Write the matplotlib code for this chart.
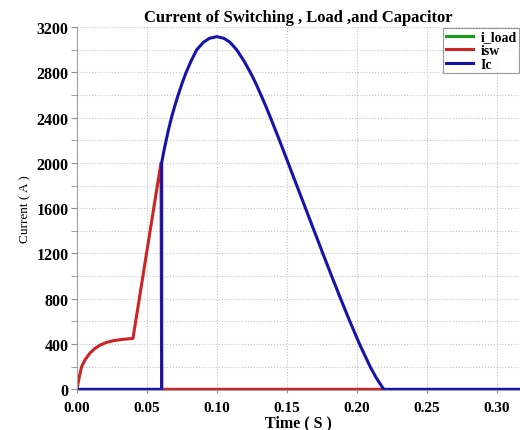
import matplotlib
matplotlib.use("Agg")
import matplotlib.pyplot as plt
from matplotlib.ticker import MultipleLocator, FormatStrFormatter

plt.rcParams["font.family"] = ["Liberation Serif", "DejaVu Serif"]

# values
t_load = [0.0, 0.317]
i_load = [0.0, 0.0]

t_sw = [0.0, 0.0008, 0.0015, 0.0033, 0.006, 0.0093, 0.0125, 0.0164, 0.021, 0.026,
        0.033, 0.040, 0.0600, 0.0605, 0.2191]
i_sw = [0, 55, 100, 200, 265, 320, 358, 390, 414, 430,
        442, 450, 2000, 0, 0]

t_c = [0.0, 0.0605, 0.0605, 0.0620, 0.0637, 0.0655, 0.0675, 0.0698, 0.0723, 0.0750,
       0.0780, 0.0815, 0.0856, 0.0903, 0.0946, 0.0998, 0.1050, 0.1093, 0.1140, 0.1193,
       0.1238, 0.1278, 0.1314, 0.1349, 0.1382, 0.1414, 0.1446, 0.1477, 0.1508, 0.1570,
       0.1632, 0.1694, 0.1756, 0.1819, 0.1883, 0.1949, 0.2018, 0.2094, 0.2138, 0.2191,
       0.317]
i_c = [0, 0, 2000, 2100, 2200, 2300, 2400, 2500, 2600, 2700,
       2800, 2900, 3000, 3065, 3100, 3115, 3100, 3065, 3000, 2900,
       2800, 2700, 2600, 2500, 2400, 2300, 2200, 2100, 2000, 1800,
       1600, 1400, 1200, 1000, 800, 600, 400, 200, 100, 0,
       0]

fig = plt.figure(figsize=(5.2, 4.31), dpi=100)
ax = fig.add_axes([0.148, 0.093, 0.852, 0.842])

ax.plot(t_load, i_load, color="#1a9a1a", lw=2.2, label="i_load")
ax.plot(t_sw, i_sw, color="#cc2424", lw=2.2, label="isw")
ax.plot(t_c, i_c, color="#1414aa", lw=2.2, label="Ic")

ax.set_xlim(0, 0.3164)
ax.set_ylim(-5, 3200)
ax.xaxis.set_major_locator(MultipleLocator(0.05))
ax.yaxis.set_major_locator(MultipleLocator(400))
ax.yaxis.set_minor_locator(MultipleLocator(200))
ax.xaxis.set_major_formatter(FormatStrFormatter("%.2f"))

grid_kw = dict(color="#c4c4c4", ls=(0, (1, 1.6)), lw=0.8)
ax.grid(True, which="both", axis="y", **grid_kw)
ax.grid(True, which="major", axis="x", **grid_kw)
ax.set_axisbelow(True)

for s in ("top", "right"):
    ax.spines[s].set_visible(False)
for s in ("left", "bottom"):
    ax.spines[s].set_color("#a0a0a0")

ax.tick_params(axis="both", which="both", color="#909090", length=4, direction="out")
ax.tick_params(axis="x", length=2, pad=6)
ax.tick_params(axis="y", pad=2)
for lab in ax.get_xticklabels():
    lab.set_fontweight("bold")
    lab.set_fontsize(11)
for lab in ax.get_yticklabels():
    lab.set_fontweight("bold")
    lab.set_fontsize(11.5)

ax.set_title("Current of Switching , Load ,and Capacitor", fontsize=12,
             fontweight="bold", pad=4)
ax.set_xlabel("Time ( S )", fontsize=11.5, fontweight="bold", labelpad=0)
ax.set_ylabel("Current ( A )", fontsize=9.5, labelpad=4)

leg = ax.legend(loc="upper right", bbox_to_anchor=(1.0, 1.0), fancybox=False,
                prop={"weight": "bold", "size": 10}, handlelength=2.0,
                borderpad=0.15, labelspacing=0.05, handletextpad=0.5,
                borderaxespad=0.1)
leg.get_frame().set_edgecolor("#808080")
leg.get_frame().set_linewidth(0.8)

fig.savefig("out.png", dpi=100)
